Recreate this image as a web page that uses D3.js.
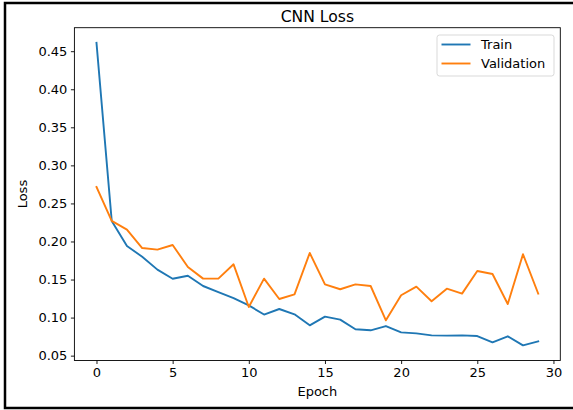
<!DOCTYPE html>
<html>
<head>
<meta charset="utf-8">
<script src="https://cdn.jsdelivr.net/npm/d3@7"></script>
<style>
  html, body { margin: 0; padding: 0; background: #fff; }
  svg { display: block; }
  text { font-family: "DejaVu Sans", sans-serif; fill: #000; }
</style>
</head>
<body>
<svg id="chart" width="573" height="410"></svg>
<script>
// Per-epoch loss values
const epochs = d3.range(0, 30);
const trainLoss = [0.461, 0.227, 0.194, 0.180, 0.163, 0.151, 0.155, 0.1415, 0.1336, 0.1257,
                   0.116, 0.104, 0.1113, 0.1043, 0.0898, 0.1013, 0.0973, 0.0846, 0.0833, 0.0889,
                   0.0806, 0.0793, 0.0767, 0.0763, 0.0767, 0.0758, 0.0675, 0.0754, 0.0635, 0.0688];
const valLoss = [0.2716, 0.227, 0.2156, 0.1914, 0.1893, 0.1954, 0.1665, 0.1512, 0.1512, 0.170,
                 0.1139, 0.1512, 0.1244, 0.1306, 0.1849, 0.1437, 0.1372, 0.1437, 0.1415, 0.0964,
                 0.1293, 0.1407, 0.1214, 0.138, 0.1315, 0.1612, 0.1573, 0.1178, 0.1832, 0.1315];
const xTicks = [0, 5, 10, 15, 20, 25, 30];
const yTicks = [0.05, 0.10, 0.15, 0.20, 0.25, 0.30, 0.35, 0.40, 0.45];
const seriesNames = ["Train", "Validation"];
const seriesColors = ["#1f77b4", "#ff7f0e"];

const svg = d3.select("#chart");

// Frame around the whole figure
svg.append("path")
  .attr("d", "M580,3 H5 V408 H580")
  .attr("fill", "none").attr("stroke", "#000").attr("stroke-width", 2.5);

const plot = { left: 74.4, top: 27.7, right: 560.3, bottom: 360.5 };

// Axis limits with 5% padding around the data
const xMin = d3.min(epochs), xMax = d3.max(epochs);
const xPad = (xMax - xMin) * 0.05;
const all = trainLoss.concat(valLoss);
const yMin = d3.min(all), yMax = d3.max(all);
const yPad = (yMax - yMin) * 0.05;

const x = d3.scaleLinear().domain([xMin - xPad, xMax + xPad]).range([plot.left, plot.right]);
const y = d3.scaleLinear().domain([yMin - yPad, yMax + yPad]).range([plot.bottom, plot.top]);

// Lines
const line = d3.line().x((d, i) => x(epochs[i])).y(d => y(d));
[trainLoss, valLoss].forEach((s, k) => {
  svg.append("path")
    .datum(s)
    .attr("d", line)
    .attr("fill", "none")
    .attr("stroke", seriesColors[k])
    .attr("stroke-width", 1.9)
    .attr("stroke-linejoin", "round")
    .attr("stroke-linecap", "square");
});

// Axes
const xAxis = svg.append("g")
  .attr("transform", `translate(0,${plot.bottom})`)
  .call(d3.axisBottom(x).tickValues(xTicks).tickFormat(d3.format("d")).tickSize(3.5).tickPadding(3.5).tickSizeOuter(0));
const yAxis = svg.append("g")
  .attr("transform", `translate(${plot.left},0)`)
  .call(d3.axisLeft(y).tickValues(yTicks).tickFormat(d3.format(".2f")).tickSize(3.5).tickPadding(3.5).tickSizeOuter(0));
[xAxis, yAxis].forEach(g => {
  g.select(".domain").remove();
  g.selectAll(".tick line").attr("stroke", "#000").attr("stroke-width", 0.9);
  g.selectAll(".tick text").attr("font-family", "DejaVu Sans").attr("font-size", 13).attr("fill", "#000");
});

// Plot frame
svg.append("rect")
  .attr("x", plot.left).attr("y", plot.top)
  .attr("width", plot.right - plot.left).attr("height", plot.bottom - plot.top)
  .attr("fill", "none").attr("stroke", "#000").attr("stroke-width", 0.9);

// Title and axis labels
svg.append("text")
  .attr("x", (plot.left + plot.right) / 2).attr("y", 21.5)
  .attr("text-anchor", "middle").attr("font-size", 15.6)
  .text("CNN Loss");
svg.append("text")
  .attr("x", (plot.left + plot.right) / 2).attr("y", 396)
  .attr("text-anchor", "middle").attr("font-size", 13)
  .text("Epoch");
svg.append("text")
  .attr("transform", `translate(27,${(plot.top + plot.bottom) / 2}) rotate(-90)`)
  .attr("text-anchor", "middle").attr("font-size", 13)
  .text("Loss");

// Legend
const legend = svg.append("g");
legend.append("rect")
  .attr("x", 437).attr("y", 35).attr("width", 117).attr("height", 41)
  .attr("rx", 2.5).attr("fill", "#fff").attr("fill-opacity", 0.8)
  .attr("stroke", "#d5d5d5").attr("stroke-width", 0.9);
seriesNames.forEach((name, k) => {
  const ly = 44.5 + k * 19;
  legend.append("line")
    .attr("x1", 441.5).attr("x2", 470.5).attr("y1", ly).attr("y2", ly)
    .attr("stroke", seriesColors[k]).attr("stroke-width", 1.9);
  legend.append("text")
    .attr("x", 481).attr("y", ly + 4.7).attr("font-size", 13)
    .text(name);
});
</script>
</body>
</html>
